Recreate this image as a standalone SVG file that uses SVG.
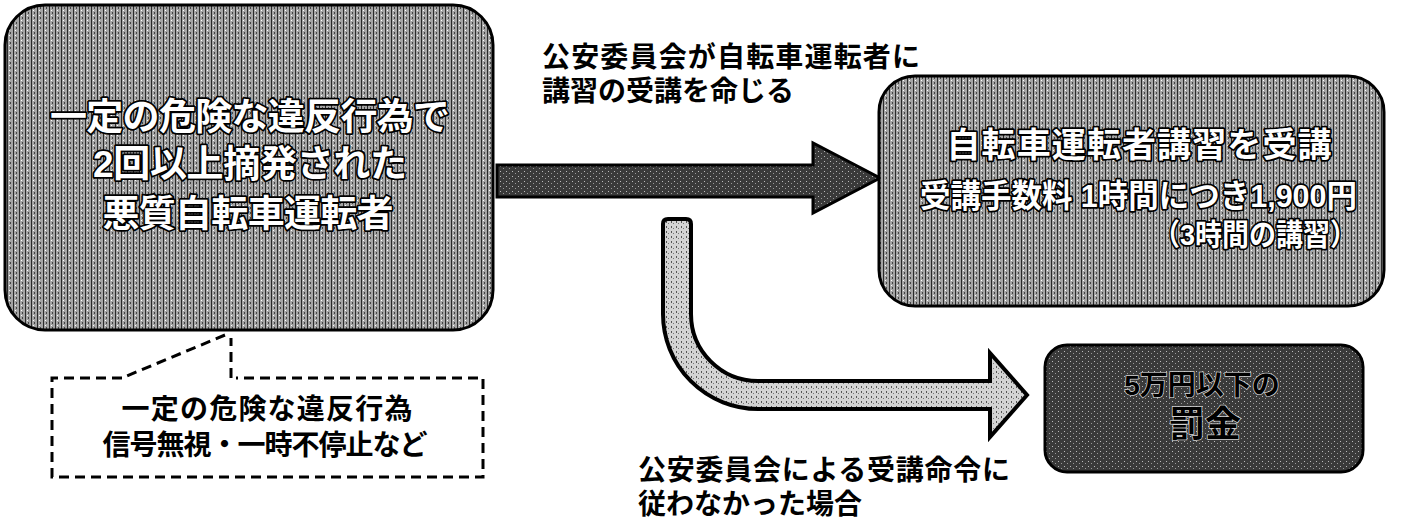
<svg xmlns="http://www.w3.org/2000/svg" width="1416" height="529" viewBox="0 0 1416 529">
<style>
.jp{font-family:"Liberation Sans","Noto Sans CJK JP",sans-serif;font-weight:bold}
.lbl{font-size:28px;fill:#000}
.big{fill:#fff;stroke:#000;stroke-width:3.5;paint-order:stroke;stroke-linejoin:round}
.box{stroke:#000;stroke-width:3}
.dash{fill:none;stroke:#000;stroke-width:3;stroke-dasharray:10 6}
</style>
<defs>
<pattern id="tex" width="6" height="5" patternUnits="userSpaceOnUse">
<rect width="6" height="5" fill="#a4a4a4"/>
<rect x="1" width="1" height="5" fill="#2a2a2a"/>
<rect x="4" y="2" width="1" height="2" fill="#444"/>
<rect x="3" y="0" width="1" height="1" fill="#fff"/>
</pattern>
<pattern id="dark" width="6" height="5" patternUnits="userSpaceOnUse">
<rect width="6" height="5" fill="#3a3a3a"/>
<rect x="2" y="1" width="1" height="1" fill="#bbb"/>
<rect x="5" y="3" width="1" height="1" fill="#999"/>
</pattern>
<pattern id="light" width="5" height="5" patternUnits="userSpaceOnUse">
<rect width="5" height="5" fill="#d4d4d4"/>
<rect x="1" y="1" width="1" height="2" fill="#555"/>
<rect x="3" y="3" width="1" height="1" fill="#777"/>
</pattern>
</defs>

<g id="connectors">
<path id="arrow-main" d="M497 165 L813 165 L813 143 L880 178 L813 213 L813 197 L497 197 Z" fill="url(#dark)" stroke="#000" stroke-width="3" stroke-linejoin="miter"/>
<path id="arrow-curved" d="M663 224 Q663 219 668 219 L686 219 Q691 219 691 224 L691 314 A67 67 0 0 0 758 381 L990 381 L990 353 L1027 395 L990 437 L990 409 L758 409 A95 95 0 0 1 663 314 Z" fill="url(#light)" stroke="#000" stroke-width="4"/>
<path id="callout-pointer" class="dash" d="M231 378 L231 338 M225 335 L122 378"/>
</g>

<g id="node-offender">
<rect class="box" x="5" y="5" width="488" height="325" rx="40" fill="url(#tex)"/>
<text class="jp big" font-size="37" x="250" y="130" text-anchor="middle" textLength="400" lengthAdjust="spacing">一定の危険な違反行為で</text>
<text class="jp big" font-size="37" x="250" y="177" text-anchor="middle" textLength="314" lengthAdjust="spacing">2回以上摘発された</text>
<text class="jp big" font-size="37" x="248" y="227" text-anchor="middle" textLength="291" lengthAdjust="spacing">悪質自転車運転者</text>
</g>

<g id="node-course">
<rect class="box" x="879" y="76" width="505" height="230" rx="36" fill="url(#tex)"/>
<text class="jp big" font-size="34" x="1139" y="157" text-anchor="middle" textLength="385" lengthAdjust="spacing">自転車運転者講習を受講</text>
<text class="jp big" font-size="32" x="1357" y="207" text-anchor="end" textLength="437" lengthAdjust="spacingAndGlyphs">受講手数料 1時間につき1,900円</text>
<text class="jp big" font-size="30" x="1357" y="245" text-anchor="end" textLength="204" lengthAdjust="spacingAndGlyphs">（3時間の講習）</text>
</g>

<g id="node-fine">
<rect class="box" x="1045" y="345" width="318" height="127" rx="22" fill="url(#dark)"/>
<text class="jp" font-size="28" x="1202" y="395" text-anchor="middle" fill="#000" stroke="#cfcfcf" stroke-width="1.5" paint-order="stroke">5万円以下の</text>
<text class="jp" font-size="36" x="1205" y="437" text-anchor="middle" fill="#000" stroke="#cfcfcf" stroke-width="1.5" paint-order="stroke">罰金</text>
</g>

<g id="node-callout">
<path class="dash" d="M122 378 L52 378 L52 477 L483 477 L483 378 L236 378"/>
<text class="jp lbl" x="267" y="419" text-anchor="middle" textLength="291" lengthAdjust="spacing">一定の危険な違反行為</text>
<text class="jp lbl" x="265" y="455" text-anchor="middle" textLength="325" lengthAdjust="spacing">信号無視・一時不停止など</text>
</g>

<g id="label-order">
<text class="jp lbl" x="542" y="67" textLength="378" lengthAdjust="spacing">公安委員会が自転車運転者に</text>
<text class="jp lbl" x="542" y="101">講習の受講を命じる</text>
</g>

<g id="label-noncompliance">
<text class="jp lbl" x="638" y="480" textLength="372" lengthAdjust="spacing">公安委員会による受講命令に</text>
<text class="jp lbl" x="638" y="514">従わなかった場合</text>
</g>
</svg>
